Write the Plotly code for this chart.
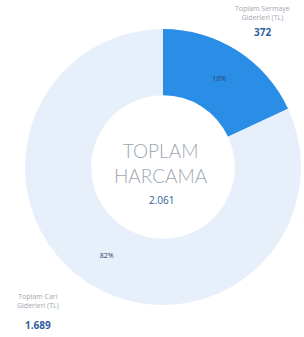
import plotly.graph_objects as go

labels = ["Toplam Sermaye<br>Giderleri (TL)", "Toplam Cari<br>Giderleri (TL)"]
values = [372, 1689]
pct_text = ["18%", "82%"]
colors = ["#2b8ee6", "#e7f0fa"]
center_title = "TOPLAM<br>HARCAMA"

def fmt(v):
    return f"{v:,}".replace(",", ".")

total = sum(values)

W, H = 304, 337
cx, cy, R = 163, 167, 138

fig = go.Figure(go.Pie(
    labels=labels,
    values=values,
    text=pct_text,
    textinfo="text",
    textposition="inside",
    insidetextorientation="horizontal",
    textfont=dict(size=7, color="#2c3e6b", family="Open Sans"),
    marker=dict(colors=colors, line=dict(width=0)),
    hole=0.52,
    sort=False,
    direction="clockwise",
    rotation=0,
    showlegend=False,
    hoverinfo="none",
    domain=dict(x=[(cx - R) / W, (cx + R) / W],
                y=[(H - cy - R) / H, (H - cy + R) / H]),
))

def px(x):
    return x / W

def py(y):
    return 1 - y / H

annos = []
annos.append(dict(x=px(161), y=py(163), text=center_title, showarrow=False,
                  font=dict(size=19, color="#9ea6b0", family="Lato", weight=300),
                  xref="paper", yref="paper", xanchor="center", yanchor="middle"))
annos.append(dict(x=px(162), y=py(200), text=fmt(total), showarrow=False,
                  font=dict(size=10, color="#2d5d9b", family="Open Sans"),
                  xref="paper", yref="paper", xanchor="center", yanchor="middle"))
label_pos = [(262, 13, 32), (38, 301, 325)]
for lab, val, (lx, ly, vy) in zip(labels, values, label_pos):
    annos.append(dict(x=px(lx), y=py(ly), text=lab, showarrow=False,
                      font=dict(size=7, color="#a0a8b2", family="Open Sans"),
                      xref="paper", yref="paper", xanchor="center", yanchor="middle"))
    annos.append(dict(x=px(lx), y=py(vy), text=fmt(val), showarrow=False,
                      font=dict(size=10, color="#2d5d9b", family="Open Sans", weight=700),
                      xref="paper", yref="paper", xanchor="center", yanchor="middle"))

fig.update_layout(width=W, height=H, autosize=False,
                  margin=dict(l=0, r=0, t=0, b=0),
                  paper_bgcolor="white", plot_bgcolor="white",
                  annotations=annos)

fig.write_html("out.html", config={"displayModeBar": False},
               post_script="document.body.style.margin='0';")
